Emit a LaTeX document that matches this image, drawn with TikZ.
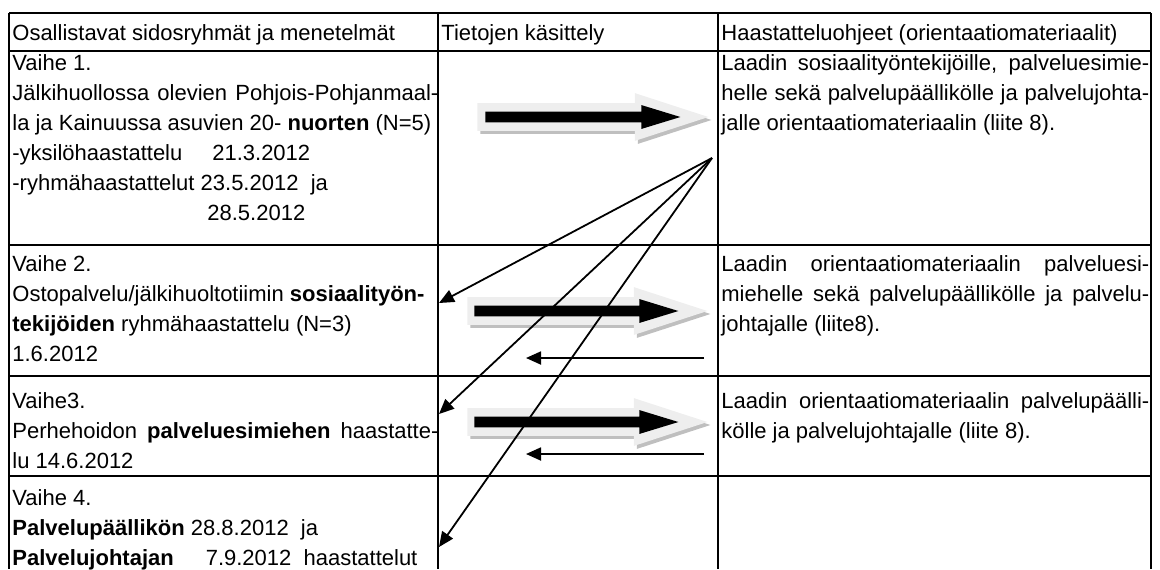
\documentclass[tikz,border=0pt]{standalone}
\usepackage{fontspec}
\setmainfont{Liberation Sans}
\usetikzlibrary{shapes.arrows,arrows.meta}
\hyphenpenalty=10000
\exhyphenpenalty=10000
\tolerance=10000
\hbadness=10000
\begin{document}
\begin{tikzpicture}[x=0.5pt,y=-0.5pt,
				cell/.style={anchor=base west,inner sep=0pt,align=justify,font=\fontsize{11}{15}\selectfont},
				leftcell/.style={cell,text width=213pt},
				rightcell/.style={cell,text width=214pt},
				grid/.style={line width=0.9pt},
				glow/.style={single arrow,anchor=tail,inner sep=6.75pt,single arrow head extend=5pt,single arrow tip angle=36},
				flow/.style={single arrow,anchor=tail,fill=black,inner sep=2.5pt,single arrow head extend=3.25pt,single arrow tip angle=34},
				link/.style={line width=0.9pt,-{Triangle[length=7.5pt,width=6.5pt]}}]
\useasboundingbox (0,0) rectangle (1160,569);
% table
\foreach \y in {13,51,245,376,476}
	\draw[grid] (9,\y) -- (1151,\y);
\foreach \x in {9,438,718,1151}
	\draw[grid] (\x,13) -- (\x,569);
% header
\node[cell] (head1) at (12,40) {Osallistavat sidosryhmät ja menetelmät};
\node[cell] (head2) at (441,40) {Tietojen käsittely};
\node[cell] (head3) at (721,40) {Haastatteluohjeet (orientaatiomateriaalit)};
% stages
\node[leftcell] (stage1) at (12,70) {Vaihe 1.\newline
	Jälkihuollossa olevien Pohjois-Pohjanmaal-\linebreak
	la ja Kainuussa asuvien 20- \textbf{nuorten} (N=5)\newline
	-yksilöhaastattelu\hspace{15pt}21.3.2012\newline
	-ryhmähaastattelut 23.5.2012~ ja\newline
	\hspace*{97.5pt}28.5.2012};
\node[leftcell] (stage2) at (12,271) {Vaihe 2.\newline
	Ostopalvelu/jälkihuoltotiimin \textbf{sosiaalityön-}\newline
	\textbf{tekijöiden} ryhmähaastattelu (N=3)\newline
	1.6.2012};
\node[leftcell] (stage3) at (12,408) {Vaihe3.\newline
	Perhehoidon \textbf{palveluesimiehen} haastatte-\linebreak
	lu 14.6.2012};
\node[leftcell] (stage4) at (12,505) {Vaihe 4.\newline
	\textbf{Palvelupäällikön} 28.8.2012~ ja\newline
	\textbf{Palvelujohtajan}\hspace{16pt}7.9.2012~ haastattelut};
% guides
\node[rightcell] (guide1) at (721,70) {Laadin sosiaalityöntekijöille, palveluesimie-\linebreak
	helle sekä palvelupäällikölle ja palvelujohta-\linebreak
	jalle orientaatiomateriaalin (liite 8).};
\node[rightcell] (guide2) at (721,271) {Laadin orientaatiomateriaalin palveluesi-\linebreak
	miehelle sekä palvelupäällikölle ja palvelu-\linebreak
	johtajalle (liite8).};
\node[rightcell] (guide3) at (721,408) {Laadin orientaatiomateriaalin palvelupäälli-\linebreak
	kölle ja palvelujohtajalle (liite 8).};
% big arrows
\foreach \y/\gx/\glen/\bx/\blen/\n in {117/477/115.5/485/97.5/1,311/467/120/474/102/2,422/467/120/474/102/3}{
	\node[glow,fill=gray!50,minimum height=\glen pt] (shade\n) at (\gx+3,\y+3) {};
	\node[glow,fill=gray!13,minimum height=\glen pt] (glow\n) at (\gx,\y) {};
	\node[flow,minimum height=\blen pt] (flow\n) at (\bx,\y) {};
}
% return arrows
\foreach \y/\n in {358/2,454/3}{
	\coordinate (back\n) at (704,\y);
	\coordinate (done\n) at (526,\y);
	\draw[link] (back\n) -- (done\n);
}
% hub lines
\coordinate (hub) at (712,158);
\coordinate (in2) at (439,303);
\coordinate (in3) at (439,414);
\coordinate (in4) at (439,547);
\foreach \t in {in2,in3,in4}
	\draw[link] (hub) -- (\t);
\end{tikzpicture}
\end{document}
